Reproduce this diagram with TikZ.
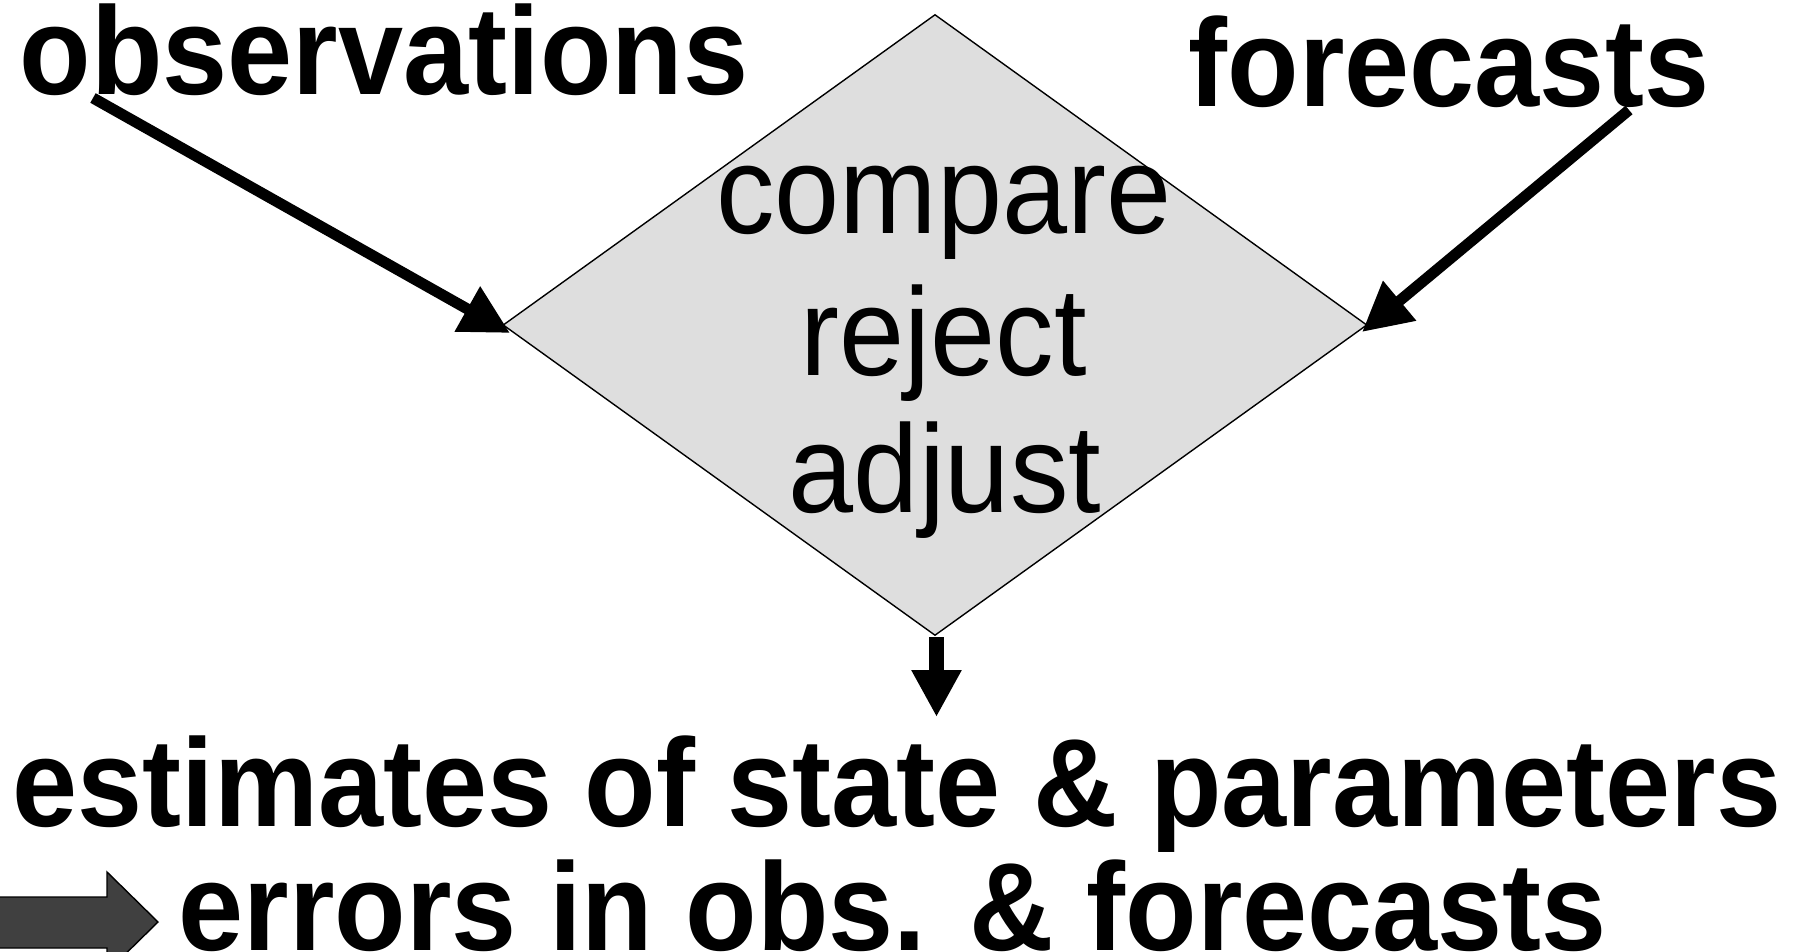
\documentclass[tikz,border=0pt]{standalone}
\usepackage{fontspec}
\setmainfont{Liberation Sans}
\usetikzlibrary{arrows.meta,shapes.geometric}
\definecolor{diafill}{HTML}{DEDEDE}
\definecolor{blockfill}{HTML}{404040}
\newcommand{\vstretch}[1]{\scalebox{1}[1.07]{#1}}
\tikzset{
  bigbold/.style={font=\fontsize{117}{139}\bfseries\selectfont, inner sep=0pt, anchor=base},
  bigreg/.style={font=\fontsize{117}{139}\selectfont, inner sep=0pt, anchor=base},
  diabox/.style={draw=black, line width=1.4pt, fill=diafill, shape=diamond, inner sep=0pt, minimum width=864pt, minimum height=621pt},
  thickarrow/.style={line width=11pt, -{Triangle[length=49pt,width=49pt]}},
  downarrow/.style={line width=15pt, -{Triangle[length=47pt,width=47pt]}},
  blockarrow/.style={fill=blockfill, draw=black, line width=1.4pt, line join=miter}
}
\begin{document}
\begin{tikzpicture}[x=1pt,y=-1pt]
\useasboundingbox (0,0) rectangle (1800,952);
\fill[white] (0,0) rectangle (1800,952);
% diamond
\node[diabox] (dia) at (935,325) {};
% texts
\node[bigbold] (obs) at (384,95) {\vstretch{observations}};
\node[bigbold] (fc) at (1449,107) {\vstretch{forecasts}};
\node[bigreg] (cmp) at (944,234) {\vstretch{compare}};
\node[bigreg] (rej) at (944,375) {\vstretch{reject}};
\node[bigreg] (adj) at (945,512) {\vstretch{adjust}};
\node[bigbold] (est) at (897,826) {\vstretch{estimates of state \& parameters}};
\node[bigbold] (err) at (893,950) {\vstretch{errors in obs. \& forecasts}};
% connectors
\coordinate (obsstart) at (93,98);
\coordinate (obsend) at (510,333);
\coordinate (fcstart) at (1629,110);
\coordinate (fcend) at (1362,332);
\coordinate (downstart) at (936.5,637);
\coordinate (downend) at (936.5,717);
\draw[thickarrow] (obsstart) -- (obsend);
\draw[thickarrow] (fcstart) -- (fcend);
\draw[downarrow] (downstart) -- (downend);
% block arrow
\draw[blockarrow] (-3,897) -- (107,897) -- (107,872) -- (158,922) -- (107,972) -- (107,948) -- (-3,948) -- cycle;
\end{tikzpicture}
\end{document}
